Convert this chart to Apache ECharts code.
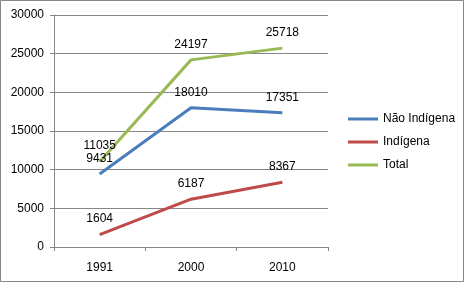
<!DOCTYPE html>
<html><head><meta charset="utf-8">
<script src="https://cdn.jsdelivr.net/npm/echarts@6/dist/echarts.min.js"></script>
<style>html,body{margin:0;padding:0;background:#fff}#c{width:464px;height:282px}</style>
</head><body><div id="c"></div>
<script>
const categories = ['1991', '2000', '2010'];
const naoIndigena = [9431, 18010, 17351];
const indigena = [1604, 6187, 8367];
const total = [11035, 24197, 25718];
const seriesNames = ['Não Indígena', 'Indígena', 'Total'];
const colors = ['#4a7ebb', '#be4b48', '#98b954'];

const font = 'Liberation Sans, Arial, sans-serif';
function mk(name, data, color) {
  return {
    name: name, type: 'line', data: data, symbol: 'circle', symbolSize: 1, showSymbol: true, smooth: false,
    lineStyle: { color: color, width: 3 }, itemStyle: { color: 'rgba(0,0,0,0)', borderWidth: 0 },
    label: { show: true, position: 'top', distance: 9, color: '#000', fontFamily: font, fontSize: 12 },
    animation: false
  };
}
const chart = echarts.init(document.getElementById('c'));
chart.setOption({
  animation: false,
  color: colors,
  graphic: [{ type: 'rect', shape: { x: 0.5, y: 0.5, width: 463, height: 281 }, style: { fill: 'none', stroke: '#868686', lineWidth: 1 }, silent: true }],
  grid: { left: 54, right: 136, top: 15, bottom: 35 },
  legend: {
    orient: 'vertical', left: 343, top: 108, itemWidth: 30, itemHeight: 3, itemGap: 11,
    icon: 'rect',
    textStyle: { fontFamily: font, fontSize: 12, color: '#000' },
    data: seriesNames.map(function (n, i) { return { name: n, itemStyle: { color: colors[i] } }; })
  },
  xAxis: {
    type: 'category', data: categories, boundaryGap: true,
    axisLine: { lineStyle: { color: '#868686', width: 1 } },
    axisTick: { show: true, length: 4, lineStyle: { color: '#868686' } },
    axisLabel: { color: '#000', fontFamily: font, fontSize: 12, margin: 15 }
  },
  yAxis: {
    type: 'value', min: 0, max: 30000, interval: 5000,
    axisLine: { show: true, lineStyle: { color: '#868686' } },
    axisTick: { show: true, length: 4, lineStyle: { color: '#868686' } },
    splitLine: { lineStyle: { color: '#868686', width: 1 } },
    axisLabel: { color: '#000', fontFamily: font, fontSize: 12, margin: 10, formatter: function (v) { return String(v); } }
  },
  series: [mk(seriesNames[0], naoIndigena, colors[0]), mk(seriesNames[1], indigena, colors[1]), mk(seriesNames[2], total, colors[2])]
});
</script></body></html>
